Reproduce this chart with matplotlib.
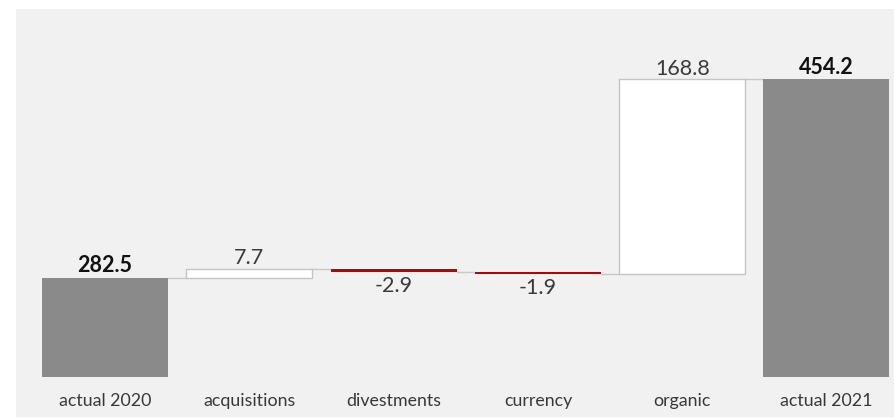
import matplotlib
matplotlib.use("Agg")
import matplotlib.pyplot as plt
from matplotlib.transforms import blended_transform_factory

categories = ['actual 2020', 'acquisitions', 'divestments', 'currency', 'organic', 'actual 2021']
values = [282.5, 7.7, -2.9, -1.9, 168.8, 454.2]
kinds = ['total', 'delta', 'delta', 'delta', 'delta', 'total']
labels = ['282.5', '7.7', '-2.9', '-1.9', '168.8', '454.2']

BASE = 196.8
plt.rcParams['font.family'] = ['Lato', 'DejaVu Sans']

fig = plt.figure(figsize=(8.94, 4.18), dpi=100)
fig.patch.set_facecolor('white')
ax = fig.add_axes([16/894, 1/418, 878/894, 408/418])
ax.set_facecolor('#f1f1f1')
for s in ax.spines.values():
    s.set_visible(False)
ax.set_xticks([])
ax.set_yticks([])
ax.set_xlim(-0.617, 5.468)
ax.set_ylim(161.9, 515.0)

W = 0.873
VFS = 15.5
running = 0.0
tops = []
for i, (v, k) in enumerate(zip(values, kinds)):
    if k == 'total':
        bottom, height = BASE, v - BASE
        ax.bar(i, height, bottom=bottom, width=W, color='#8a8a8a', edgecolor='none', zorder=3)
        running = v
        ax.annotate(labels[i], (i, v), xytext=(0, 1.0), textcoords='offset points',
                    ha='center', va='bottom', fontsize=VFS, fontweight='bold', color='#111111')
    else:
        bottom = running
        if v >= 0:
            ax.bar(i, v, bottom=bottom, width=W, color='white', edgecolor='#c4c4c4', linewidth=1, zorder=3)
            ax.annotate(labels[i], (i, running + v), xytext=(0, 0.5), textcoords='offset points',
                        ha='center', va='bottom', fontsize=VFS, fontweight='normal', color='#3a3a3a')
        else:
            ax.bar(i, v, bottom=bottom, width=W, color='#c00000', edgecolor='none', zorder=3)
            ax.annotate(labels[i], (i, running + v), xytext=(0, -2.5), textcoords='offset points',
                        ha='center', va='top', fontsize=VFS, fontweight='normal', color='#3a3a3a')
        running += v
    tops.append(running)

for i in range(len(values) - 1):
    ax.plot([i + W/2, i + 1 - W/2], [tops[i], tops[i]], color='#c8c8c8', lw=1, zorder=2)

trans = blended_transform_factory(ax.transData, ax.transAxes)
for i, c in enumerate(categories):
    ax.text(i, 0.038, c, transform=trans, ha='center', va='center', fontsize=12.8, color='#383838')

fig.savefig('out.png', dpi=100, facecolor='white')
